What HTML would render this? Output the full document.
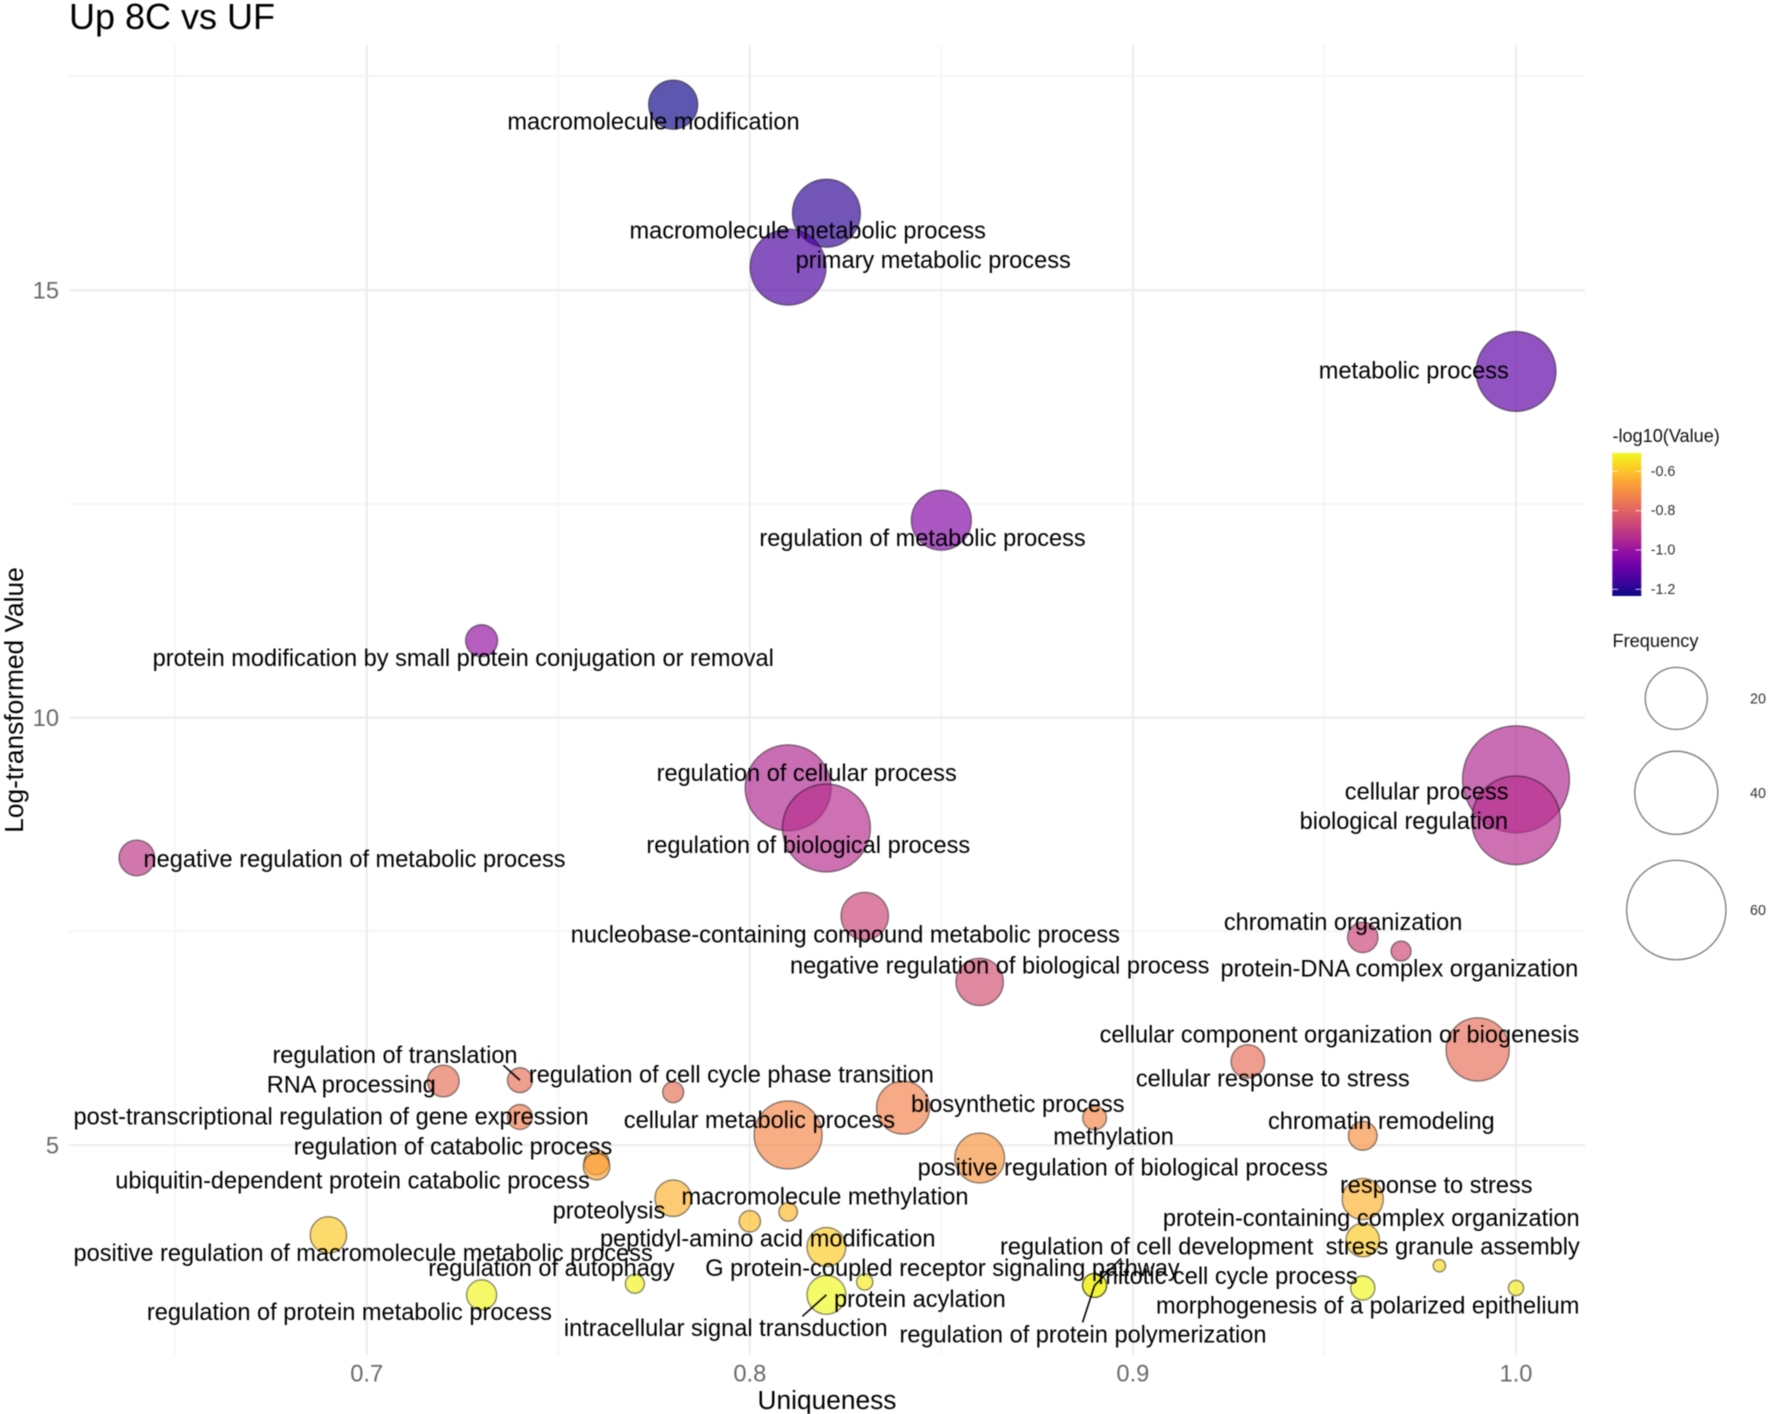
<!DOCTYPE html>
<html lang="en">
<head>
<meta charset="utf-8">
<title>Up 8C vs UF</title>
<style>
html,body{margin:0;padding:0;background:#fff;}
svg{display:block;font-family:"Liberation Sans",Arial,sans-serif;filter:blur(0.55px);}
</style>
</head>
<body>
<svg id="chart" xmlns="http://www.w3.org/2000/svg" width="1772" height="1414" viewBox="0 0 1772 1414">
  <rect x="0" y="0" width="1772" height="1414" fill="#ffffff"/>
  <g id="grid"></g>
  <g id="points"></g>
  <g id="segments"></g>
  <g id="labels"></g>
  <g id="xticks"></g>
  <g id="yticks"></g>
  <text x="69" y="29" font-size="36" fill="#000">Up 8C vs UF</text>
  <text x="827" y="1409" font-size="26.3" text-anchor="middle" fill="#000">Uniqueness</text>
  <text transform="translate(23,700) rotate(-90)" font-size="26.3" text-anchor="middle" fill="#000">Log-transformed Value</text>
  <g id="color-legend">
    <text x="1612.5" y="442" font-size="18.1" fill="#111">-log10(Value)</text>
    <defs><linearGradient id="plasma-gradient" x1="0" y1="1" x2="0" y2="0"></linearGradient></defs>
    <rect x="1612.3" y="453" width="29" height="143" fill="url(#plasma-gradient)"/>
  </g>
  <g id="size-legend">
    <text x="1612.5" y="647" font-size="18.2" fill="#111">Frequency</text>
  </g>
</svg>
<script>
// ---- Data ----
const terms = [
  "macromolecule modification","macromolecule metabolic process","primary metabolic process","metabolic process",
  "regulation of metabolic process","protein modification by small protein conjugation or removal","regulation of cellular process","regulation of biological process",
  "cellular process","biological regulation","negative regulation of metabolic process","nucleobase-containing compound metabolic process",
  "negative regulation of biological process","chromatin organization","protein-DNA complex organization","cellular component organization or biogenesis",
  "cellular response to stress","RNA processing","regulation of translation","regulation of cell cycle phase transition",
  "post-transcriptional regulation of gene expression","cellular metabolic process","biosynthetic process","methylation",
  "chromatin remodeling","positive regulation of biological process","regulation of catabolic process","ubiquitin-dependent protein catabolic process",
  "macromolecule methylation","proteolysis","peptidyl-amino acid modification","protein acylation",
  "positive regulation of macromolecule metabolic process","regulation of autophagy","regulation of protein metabolic process","intracellular signal transduction",
  "G protein-coupled receptor signaling pathway","regulation of cell development","regulation of protein polymerization","response to stress",
  "protein-containing complex organization","stress granule assembly","mitotic cell cycle process","morphogenesis of a polarized epithelium"
];
const uniqueness = [
  0.78,0.82,0.81,1.00,
  0.85,0.73,0.81,0.82,
  1.00,1.00,0.64,0.83,
  0.86,0.96,0.97,0.99,
  0.93,0.72,0.74,0.78,
  0.74,0.81,0.84,0.89,
  0.96,0.86,0.76,0.76,
  0.78,0.80,0.81,0.82,
  0.69,0.77,0.73,0.82,
  0.83,0.89,0.89,0.96,
  0.96,0.98,0.96,1.00
];
const logValue = [
  17.17,15.90,15.27,14.05,
  12.31,10.90,9.18,8.71,
  9.28,8.80,8.36,7.68,
  6.91,7.43,7.27,6.12,
  5.98,5.75,5.76,5.62,
  5.33,5.12,5.44,5.32,
  5.11,4.85,4.80,4.75,
  4.38,4.11,4.22,3.81,
  3.95,3.38,3.25,3.25,
  3.40,3.36,3.36,4.37,
  3.89,3.59,3.33,3.33
];
const frequency = [
  11.2,25,32.5,36.6,
  18.5,3.4,43.3,45.6,
  70.9,46.6,4.7,10.2,
  10.2,2.9,0.62,21,
  3.9,3.3,1.5,0.77,
  1.5,25,13.6,1.26,
  2.44,11.6,1.5,1.87,
  5,0.83,0.44,6,
  5,0.5,2.8,6,
  0.22,1.3,1.3,7,
  3.9,0.015,1.34,0.14
];
const negLog10 = [
  -1.23,-1.185,-1.14,-1.11,
  -1.04,-1.01,-0.95,-0.935,
  -0.95,-0.935,-0.91,-0.875,
  -0.85,-0.875,-0.87,-0.775,
  -0.775,-0.77,-0.77,-0.77,
  -0.74,-0.72,-0.73,-0.72,
  -0.70,-0.69,-0.68,-0.66,
  -0.63,-0.61,-0.62,-0.585,
  -0.59,-0.52,-0.515,-0.51,
  -0.53,-0.52,-0.52,-0.63,
  -0.59,-0.566,-0.51,-0.53
];
const xTicks = [0.7,0.8,0.9,1.0];
const xMinor = [0.65,0.75,0.85,0.95];
const yTicks = [5,10,15];
const yMinor = [7.5,12.5,17.5];
const colorTicks = [-0.6,-0.8,-1.0,-1.2];
const sizeTicks = [20,40,60];

// ---- Layout: repel offsets of each label from its bubble ----
const labelDx = [
  -165.8,-196.9,7.5,-197.2,-182,-329,-131.5,-180,-171.2,-216.4,6.7,-294,
  -189.7,-138.9,-180.6,-378.1,-112,-176.6,-247.5,-144.3,-446.4,-164.3,7.9,-41.3,
  -94.8,-62,-302.8,-481.3,8.3,-197.2,-188.1,7.6,-254.9,-206.6,-334.7,-262.5,
  -159.5,-94.6,-195.1,-22.8,-199.9,-113.8,-264.5,-360
];
const labelDy = [
  16.8,17.3,-7.1,-0.7,17.7,17,-14.8,16.8,12.3,0.7,1,18.5,
  -16.2,-15.2,17.4,-14.8,17.3,3.4,-25.2,-17.5,-0.4,-15,-3.5,18.7,
  -14.8,9.4,-15.8,13.9,-1.8,-11,26.7,52.2,17.8,-15.7,17.2,33.1,
  -14,-38.9,49.2,-14,-22.3,-19.3,-12,17.4
];
const connectorTerms = ["regulation of translation","intracellular signal transduction","regulation of protein polymerization","regulation of cell development"];
const connectorDx = [-16.6,-24,-12,26.5];
const connectorDy = [-15,21.5,37,-27];

// ---- Scales ----
const NS = "http://www.w3.org/2000/svg";
const plot = {left:69,right:1585,top:45,bottom:1355};
function xScale(u){return 366.7+(u-0.7)*3831;}
function yScale(v){return 1145.2-(v-5)*85.5;}
function rScale(f){return 5.5+5.7*Math.sqrt(f);}
const plasma = ["#0d0887","#41049d","#6a00a8","#8f0da4","#b12a90","#cc4778","#e16462","#f2844b","#fca636","#fcce25","#f0f921"];
const colorMin = -1.236, colorMax = -0.508;
function colorScale(v){
  let t=(v-colorMin)/(colorMax-colorMin);
  t=Math.max(0,Math.min(1,t))*(plasma.length-1);
  const i=Math.min(plasma.length-2,Math.floor(t)),f=t-i;
  const a=plasma[i],b=plasma[i+1];
  const ch=function(s,k){return parseInt(s.substr(1+k*2,2),16);};
  const m=function(k){return Math.round(ch(a,k)+(ch(b,k)-ch(a,k))*f);};
  return "rgb("+m(0)+","+m(1)+","+m(2)+")";
}
function colorBarY(v){return 589.3-(v+1.2)*196.5;}
function make(tag,attrs,parent,text){
  const e=document.createElementNS(NS,tag);
  for(const k in attrs){e.setAttribute(k,attrs[k]);}
  if(text!==undefined){e.textContent=text;}
  parent.appendChild(e);
  return e;
}
function slug(s){return s.toLowerCase().replace(/[^a-z0-9]+/g,"-").replace(/^-|-$/g,"");}

// ---- Grid ----
const gridG=document.getElementById("grid");
xMinor.forEach(function(t){
  const el=make("line",{x1:xScale(t),x2:xScale(t),y1:plot.top,y2:plot.bottom,stroke:"#f3f3f3","stroke-width":1.3},gridG);
  
  
});
yMinor.forEach(function(t){
  const el=make("line",{x1:plot.left,x2:plot.right,y1:yScale(t),y2:yScale(t),stroke:"#f3f3f3","stroke-width":1.3},gridG);
  
  
});
xTicks.forEach(function(t){
  const el=make("line",{x1:xScale(t),x2:xScale(t),y1:plot.top,y2:plot.bottom,stroke:"#ededed","stroke-width":2.2},gridG);
  
  
});
yTicks.forEach(function(t){
  const el=make("line",{x1:plot.left,x2:plot.right,y1:yScale(t),y2:yScale(t),stroke:"#ededed","stroke-width":2.2},gridG);
  
  
});

// ---- Ticks ----
const xTickG=document.getElementById("xticks");
xTicks.forEach(function(t){
  const el=make("text",{x:xScale(t),y:1381.5,"text-anchor":"middle","font-size":23.7,fill:"#6a6a6a"},xTickG,t.toFixed(1));
  
  
});
const yTickG=document.getElementById("yticks");
yTicks.forEach(function(t){
  const el=make("text",{x:59,y:yScale(t)+8.5,"text-anchor":"end","font-size":23.7,fill:"#6a6a6a"},yTickG,String(t));
  
  
});

// ---- Bubbles ----
const pointG=document.getElementById("points");
terms.forEach(function(term,i){
  const el=make("circle",{
    cx:xScale(uniqueness[i]),cy:yScale(logValue[i]),r:rScale(frequency[i]),
    fill:colorScale(negLog10[i]),"fill-opacity":0.68,
    stroke:"#000","stroke-opacity":0.45,"stroke-width":1.4
  },pointG);
  
  
});

// ---- Connectors ----
const segG=document.getElementById("segments");
connectorTerms.forEach(function(term,k){
  const i=terms.indexOf(term);
  const px=xScale(uniqueness[i]),py=yScale(logValue[i]);
  const el=make("line",{x1:px,y1:py,x2:px+connectorDx[k],y2:py+connectorDy[k],stroke:"#000","stroke-width":1.6},segG);
  
  
});

// ---- Labels ----
const labelG=document.getElementById("labels");
terms.forEach(function(term,i){
  const lx=xScale(uniqueness[i])+labelDx[i];
  const ly=yScale(logValue[i])+labelDy[i]+8;
  const el=make("text",{x:lx,y:ly,"font-size":23.58,fill:"#000"},labelG,term);
  
  
});

// ---- Color legend ----
const grad=document.getElementById("plasma-gradient");
plasma.forEach(function(c,i){
  make("stop",{offset:(i/(plasma.length-1)),"stop-color":c},grad);
});
const colorG=document.getElementById("color-legend");
colorTicks.forEach(function(t){
  const y=colorBarY(t);
  const a=make("line",{x1:1612.3,x2:1618.1,y1:y,y2:y,stroke:"#fff","stroke-opacity":0.75,"stroke-width":1},colorG);
  
  
  const b=make("line",{x1:1635.5,x2:1641.3,y1:y,y2:y,stroke:"#fff","stroke-opacity":0.75,"stroke-width":1},colorG);
  
  
  const l=make("text",{x:1650.7,y:y+4.5,"font-size":14.3,fill:"#333"},colorG,t.toFixed(1));
  
  
});

// ---- Size legend ----
const sizeG=document.getElementById("size-legend");
const sizeCenters=[698.4,792.8,910];
sizeTicks.forEach(function(t,i){
  const c=make("circle",{cx:1676.3,cy:sizeCenters[i],r:rScale(t),fill:"none",stroke:"#808080","stroke-width":1.4},sizeG);
  
  
  const l=make("text",{x:1750,y:sizeCenters[i]+5,"font-size":14.3,fill:"#333"},sizeG,String(t));
  
  
});
</script>
</body>
</html>
